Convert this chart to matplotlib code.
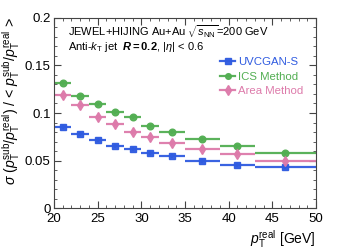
import matplotlib
matplotlib.use("Agg")
import matplotlib.pyplot as plt
import numpy as np
from matplotlib.ticker import MultipleLocator
from matplotlib.lines import Line2D

plt.rcParams['font.family'] = ['Liberation Sans', 'DejaVu Sans']
plt.rcParams['mathtext.fontset'] = 'custom'
plt.rcParams['mathtext.rm'] = 'Liberation Sans'
plt.rcParams['mathtext.it'] = 'Liberation Sans:italic'
plt.rcParams['mathtext.bf'] = 'Liberation Sans:bold'
plt.rcParams['mathtext.bfit'] = 'Liberation Sans:bold:italic'

bin_edges = [20, 22, 24, 26, 28, 30, 32, 35, 39, 43, 50]
uvcgan = [0.0857, 0.0780, 0.0717, 0.0657, 0.0626, 0.0584, 0.0549, 0.0500, 0.0458, 0.0437]
ics = [0.1311, 0.1182, 0.1094, 0.1010, 0.0955, 0.0864, 0.0804, 0.0731, 0.0654, 0.0584]
area = [0.1192, 0.1080, 0.0955, 0.0881, 0.0801, 0.0752, 0.0689, 0.0626, 0.0566, 0.0497]

edges = np.array(bin_edges)
centers = (edges[:-1] + edges[1:]) / 2
xerr = (edges[1:] - edges[:-1]) / 2

fig = plt.figure(figsize=(3.41, 2.48), dpi=100)
ax = fig.add_axes([54/341, 1-208.3/248, (316-54)/341, (208.3-17.7)/248])

series = [
    ("UVCGAN-S", uvcgan, '#2f5be0', 's', 4.8),
    ("ICS Method", ics, '#52ae52', 'o', 4.8),
    ("Area Method", area, '#dd7aaa', 'd', 5.5),
]
handles = []
for name, vals, col, mk, ms in series:
    ax.errorbar(centers, vals, xerr=xerr, yerr=0.002, fmt=mk, color=col, ms=ms,
                elinewidth=1.6, capsize=0, alpha=0.95)
    handles.append(Line2D([], [], color=col, marker=mk, ms=ms*0.85, lw=1.6, alpha=0.95, label=name))

ax.set_xlim(20, 50)
ax.set_ylim(0, 0.2)
ax.xaxis.set_major_locator(MultipleLocator(5))
ax.xaxis.set_minor_locator(MultipleLocator(1))
ax.yaxis.set_major_locator(MultipleLocator(0.05))
ax.yaxis.set_minor_locator(MultipleLocator(0.01))
ax.tick_params(which='both', direction='in', top=True, right=True, labelsize=9.5, colors='#444444', labelcolor='black')
ax.tick_params(which='major', length=5)
ax.tick_params(which='minor', length=2.5)
ax.tick_params(axis='y', pad=2.5)
ax.set_yticks([0, 0.05, 0.1, 0.15, 0.2])
ax.set_yticklabels(['0', '0.05', '0.1', '0.15', '0.2'])
for s in ax.spines.values():
    s.set_color('#444444')
    s.set_linewidth(0.8)

ax.set_xlabel(r'$p_{\mathrm{T}}^{\mathrm{real}}$ [GeV]', fontsize=10, loc='right', labelpad=2)
ax.set_ylabel(r'$\sigma$ ($p_{\mathrm{T}}^{\mathrm{sub}}/p_{\mathrm{T}}^{\mathrm{real}}$) / < $p_{\mathrm{T}}^{\mathrm{sub}}/p_{\mathrm{T}}^{\mathrm{real}}$ >',
              fontsize=10.2, loc='top', labelpad=2)

ax.text(0.053, 0.901, r'JEWEL+HIJING Au+Au $\sqrt{s_{\mathrm{NN}}}$=200 GeV', transform=ax.transAxes,
        fontsize=8, va='baseline', ha='left')
ax.text(0.053, 0.830, r'Anti-$k_{\mathrm{T}}$ jet  $\boldsymbol{R}$$\mathbf{=0.2}$, $|\eta|$ < 0.6', transform=ax.transAxes,
        fontsize=8, va='baseline', ha='left')

leg = ax.legend(handles=handles, loc='upper left', bbox_to_anchor=(0.634, 0.792), frameon=False,
                fontsize=8.2, handlelength=1.3, labelspacing=0.4, handletextpad=0.3,
                borderpad=0, borderaxespad=0)
for t, (_, _, col, _, _) in zip(leg.get_texts(), series):
    t.set_color(col)

fig.savefig('out.png', dpi=100)
